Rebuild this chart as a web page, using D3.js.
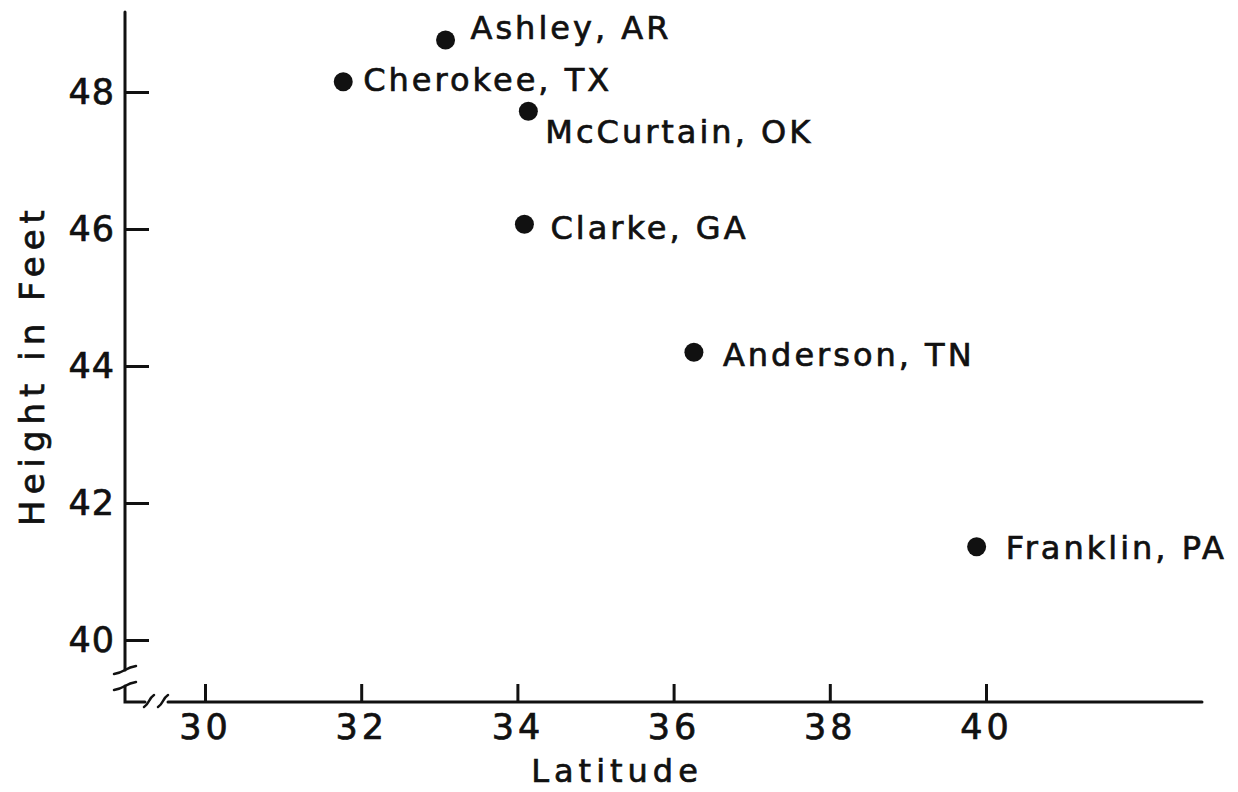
<!DOCTYPE html>
<html>
<head>
<meta charset="utf-8">
<script src="https://cdn.jsdelivr.net/npm/d3@7"></script>
<style>
  body { margin: 0; background: #fff; }
  text { font-family: "DejaVu Sans", sans-serif; fill: #111; stroke: #111; stroke-width: 0.7px; }
</style>
</head>
<body>
<div id="chart"></div>
<script>
const counties = ["Ashley, AR", "Cherokee, TX", "McCurtain, OK", "Clarke, GA", "Anderson, TN", "Franklin, PA"];
const latitude = [33.08, 31.77, 34.14, 34.09, 36.26, 39.88];
const heightFeet = [48.76, 48.15, 47.72, 46.07, 44.2, 41.36];
const xTicks = [30, 32, 34, 36, 38, 40];
const yTicks = [40, 42, 44, 46, 48];

const width = 1238;
const height = 792;
const ink = "#111";

const x = d3.scaleLinear().domain([30, 40]).range([205, 986]);
const y = d3.scaleLinear().domain([40, 48]).range([640, 92]);

const axisX = 125;   // y axis line position
const axisY = 702;   // x axis line position

const svg = d3.select("#chart")
  .append("svg")
  .attr("width", width)
  .attr("height", height);

// axis lines with breaks near the origin
const axisLine = svg.append("g")
  .attr("fill", "none")
  .attr("stroke", ink)
  .attr("stroke-width", 3)
  .attr("stroke-linecap", "round");

axisLine.append("path").attr("d", `M${axisX},12 V670`);
axisLine.append("path").attr("d", `M${axisX},686 V${axisY} H145`);
axisLine.append("path").attr("d", `M168,${axisY} H1202`);

// break squiggles
const squiggle = (cx, cy, horiz) => {
  if (horiz) {
    return `M${cx - 6},${cy + 5} q3,-2 5,-6 q2,-4 5,-6`;
  }
  return `M${cx - 11},${cy + 4} q6,-1 11,-4 q5,-3 11,-4`;
};
axisLine.append("path").attr("d", squiggle(axisX, 670, false)).attr("stroke-width", 2.5);
axisLine.append("path").attr("d", squiggle(axisX, 686, false)).attr("stroke-width", 2.5);
axisLine.append("path").attr("d", squiggle(150, axisY, true)).attr("stroke-width", 2.5);
axisLine.append("path").attr("d", squiggle(164, axisY, true)).attr("stroke-width", 2.5);

// y axis ticks and labels
const yAxis = d3.axisLeft(y)
  .tickValues(yTicks)
  .tickSizeInner(-24)
  .tickSizeOuter(0)
  .tickPadding(10)
  .tickFormat(d3.format("d"));

const gy = svg.append("g")
  .attr("transform", `translate(${axisX},0)`)
  .call(yAxis);
gy.select(".domain").remove();
gy.selectAll(".tick line").attr("stroke", ink).attr("stroke-width", 3);
gy.selectAll(".tick text")
  .attr("font-size", 35)
  .attr("fill", ink)
  .attr("letter-spacing", 1)
  .attr("font-family", "DejaVu Sans, sans-serif");

// x axis ticks and labels
const xAxis = d3.axisBottom(x)
  .tickValues(xTicks)
  .tickSizeInner(-18)
  .tickSizeOuter(0)
  .tickPadding(12)
  .tickFormat(d3.format("d"));

const gx = svg.append("g")
  .attr("transform", `translate(0,${axisY})`)
  .call(xAxis);
gx.select(".domain").remove();
gx.selectAll(".tick line").attr("stroke", ink).attr("stroke-width", 3);
gx.selectAll(".tick text")
  .attr("font-size", 35)
  .attr("fill", ink)
  .attr("letter-spacing", 4)
  .attr("font-family", "DejaVu Sans, sans-serif");

// axis titles
svg.append("text")
  .attr("x", 617)
  .attr("y", 782)
  .attr("text-anchor", "middle")
  .attr("font-size", 32)
  .attr("letter-spacing", 5)
  .text("Latitude");

svg.append("text")
  .attr("transform", `translate(44,365) rotate(-90)`)
  .attr("text-anchor", "middle")
  .attr("font-size", 34)
  .attr("letter-spacing", 6)
  .text("Height in Feet");

// points
const data = counties.map((name, i) => ({ name, lat: latitude[i], h: heightFeet[i] }));

svg.append("g")
  .selectAll("circle")
  .data(data)
  .enter()
  .append("circle")
  .attr("cx", (d) => x(d.lat))
  .attr("cy", (d) => y(d.h))
  .attr("r", 9.5)
  .attr("fill", ink);

// labels: McCurtain sits below-right of its dot, the rest to the right
const labelOffset = {
  "Ashley, AR": [25, -12],
  "Cherokee, TX": [20, -2],
  "McCurtain, OK": [17, 20],
  "Clarke, GA": [26, 3],
  "Anderson, TN": [29, 2],
  "Franklin, PA": [29, 1],
};

svg.append("g")
  .selectAll("text")
  .data(data)
  .enter()
  .append("text")
  .attr("x", (d) => x(d.lat) + labelOffset[d.name][0])
  .attr("y", (d) => y(d.h) + labelOffset[d.name][1])
  .attr("dy", "0.36em")
  .attr("font-size", 32)
  .attr("letter-spacing", 3)
  .text((d) => d.name);
</script>
</body>
</html>
